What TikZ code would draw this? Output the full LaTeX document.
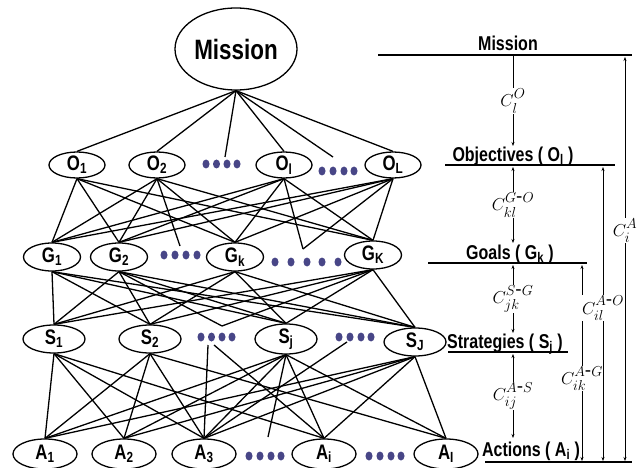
\documentclass[tikz,border=0pt]{standalone}
\usepackage{fontspec}
\setmainfont{Liberation Sans}
\newfontfamily\cond[FakeStretch=0.8]{Liberation Sans}
\usetikzlibrary{arrows.meta,shapes.geometric}
\definecolor{dotc}{RGB}{72,70,135}
\newcommand\Clab[2]{$C^{\raisebox{2pt}{$\scriptstyle #1$}}_{\raisebox{-2pt}{$\scriptstyle #2$}}$}
\begin{document}
\begin{tikzpicture}[x=1pt,y=-1pt,
  nd/.style={draw,ellipse,line width=1.3pt,inner sep=0pt,font=\cond\bfseries\fontsize{21}{21}\selectfont},
  rowO/.style={nd,minimum width=56pt,minimum height=26pt},
  rowG/.style={nd,minimum width=57pt,minimum height=28pt},
  rowS/.style={nd,minimum width=62pt,minimum height=28pt},
  rowA/.style={nd,minimum width=64pt,minimum height=30pt},
  ed/.style={line width=1.3pt},
  lvl/.style={line width=2pt},
  lvltxt/.style={font=\cond\bfseries\fontsize{20}{20}\selectfont, inner sep=0pt, anchor=base},
  arr/.style={line width=0.7pt,{Stealth[length=4pt,width=3pt]}-{Stealth[length=4pt,width=3pt]}},
  arrd/.style={line width=0.7pt,-{Stealth[length=4pt,width=3pt]}},
  clab/.style={fill=white, inner sep=0.5pt, font=\fontsize{19}{19}\selectfont}
]
\useasboundingbox (0,0) rectangle (640,468);
\fill[white] (0,0) rectangle (640,468);

% ---- left tree nodes
\node[nd,minimum width=122pt,minimum height=82pt,font=\cond\bfseries\fontsize{28}{28}\selectfont] (mis) at (236,49) {Mission};

\node[rowO] (o1) at (77,165) {O\textsubscript{1}};
\node[rowO] (o2) at (157,165) {O\textsubscript{2}};
\node[rowO] (ol) at (284,165) {O\textsubscript{l}};
\node[rowO] (oL) at (393,165) {O\textsubscript{L}};

\node[rowG] (g1) at (52,257) {G\textsubscript{1}};
\node[rowG] (g2) at (119,257) {G\textsubscript{2}};
\node[rowG] (gk) at (235,257) {G\textsubscript{k}};
\node[rowG] (gK) at (373,255) {G\textsubscript{K}};

\node[rowS] (s1) at (54,339) {S\textsubscript{1}};
\node[rowS] (s2) at (150,339) {S\textsubscript{2}};
\node[rowS] (sj) at (286,339) {S\textsubscript{j}};
\node[rowS] (sJ) at (415,342) {S\textsubscript{J}};

\node[rowA] (a1) at (45,454) {A\textsubscript{1}};
\node[rowA] (a2) at (124,454) {A\textsubscript{2}};
\node[rowA] (a3) at (204,454) {A\textsubscript{3}};
\node[rowA] (ai) at (324,454) {A\textsubscript{i}};
\node[rowA] (aI) at (446,454) {A\textsubscript{I}};

% ---- dot groups
\foreach \x in {206,216.5,227,237} \fill[dotc] (\x,164) ellipse (3.5pt and 4.5pt);
\foreach \x in {322,333,344,354} \fill[dotc] (\x,171) ellipse (3.5pt and 4.5pt);
\foreach \x in {164,175,186,197} \fill[dotc] (\x,255) ellipse (3.5pt and 4.5pt);
\foreach \x in {275,291,307,322,338} \fill[dotc] (\x,262) ellipse (3.5pt and 4.5pt);
\foreach \x in {201,211.5,222,232} \fill[dotc] (\x,337) ellipse (3.5pt and 4.5pt);
\foreach \x in {339,350,361,371} \fill[dotc] (\x,337) ellipse (3.5pt and 4.5pt);
\foreach \x in {249,260,271,281} \fill[dotc] (\x,456) ellipse (3.5pt and 4.5pt);
\foreach \x in {369,380,391,401} \fill[dotc] (\x,456) ellipse (3.5pt and 4.5pt);

% ---- dangling edge ends
\coordinate (md1) at (225,157);
\coordinate (md2) at (333,157);
\coordinate (gd1) at (180,246);
\coordinate (gd2) at (303,249);
\coordinate (sd1) at (222,326);
\coordinate (sd1a) at (208,345);
\coordinate (sd1b) at (214,345);
\coordinate (sd2) at (347,342);
\coordinate (ad1) at (268,437);

% ---- edges
\foreach \b in {o1,o2,ol,oL} \draw[ed] (mis.south) -- (\b.north);
\draw[ed] (mis.south) -- (md1);
\draw[ed] (mis.south) -- (md2);

\foreach \a/\b in {o1/g1,o1/g2,o1/gk,o1/gK,o2/g1,o2/g2,o2/gk,o2/gK,ol/g1,ol/g2,ol/gk,ol/gK,oL/g1,oL/g2,oL/gk,oL/gK}
  \draw[ed] (\a.south) -- (\b.north);
\draw[ed] (o2.south) -- (gd1);
\draw[ed] (ol.south) -- (gd2);
\draw[ed] (oL.south) -- (gd2);

\foreach \a/\b in {g1/s1,g1/s2,g1/sj,g1/sJ,g2/s1,g2/s2,g2/sj,g2/sJ,gk/s1,gk/s2,gk/sj,gk/sJ,gK/s1,gK/s2,gK/sj,gK/sJ}
  \draw[ed] (\a.south) -- (\b.north);
\draw[ed] (g2.south) -- (sd1);
\draw[ed] (gK.south) -- (sd1);

\foreach \a/\b in {s1/a1,s1/a2,s1/a3,s1/ai,s2/a1,s2/a2,s2/a3,s2/aI,sj/a1,sj/a2,sj/a3,sj/ai,sj/aI,sJ/a1,sJ/a2,sJ/a3,sJ/ai,sJ/aI}
  \draw[ed] (\a.south) -- (\b.north);
\draw[ed] (sj.south) -- (ad1);
\draw[ed] (sd1a) -- (a3.north);
\draw[ed] (sd1b) -- (ai.north);
\draw[ed] (sd2) -- (a3.north);

% ---- right side: level lines
\coordinate (mL) at (378,55);  \coordinate (mR) at (632,55);
\coordinate (oLl) at (445,165); \coordinate (oRr) at (615,165);
\coordinate (gL) at (428,263); \coordinate (gR) at (587,263);
\coordinate (sL) at (448,352); \coordinate (sR) at (568,352);
\coordinate (aL) at (485,462); \coordinate (aR) at (632,462);
\draw[lvl] (mL) -- (mR);
\draw[lvl] (oLl) -- (oRr);
\draw[lvl] (gL) -- (gR);
\draw[lvl] (sL) -- (sR);
\draw[lvl] (aL) -- (aR);

\node[lvltxt] (tm) at (508,51) {Mission};
\node[lvltxt] (to) at (513,161) {Objectives ( O\textsubscript{l} )};
\node[lvltxt] (tg) at (510,259) {Goals ( G\textsubscript{k} )};
\node[lvltxt] (ts) at (505,348) {Strategies ( S\textsubscript{j} )};
\node[lvltxt] (ta) at (531,456) {Actions ( A\textsubscript{i} )};

% ---- central arrows
\coordinate (c1t) at (513,56);  \coordinate (c1b) at (513,146);
\coordinate (c2t) at (513,167); \coordinate (c2b) at (513,243);
\coordinate (c3t) at (513,265); \coordinate (c3b) at (513,333);
\coordinate (c4t) at (513,354); \coordinate (c4b) at (513,438);
\draw[arrd] (c1t) -- node[clab] {\Clab{O}{l}} (c1b);
\draw[arr] (c2t) -- node[clab] {\Clab{G\textrm{-}O}{kl}} (c2b);
\draw[arr] (c3t) -- node[clab] {\Clab{S\textrm{-}G}{jk}} (c3b);
\draw[arr] (c4t) -- node[clab] {\Clab{A\textrm{-}S}{ij}} (c4b);

% ---- right long arrows
\coordinate (r1t) at (582,265); \coordinate (r1b) at (582,461);
\coordinate (r2t) at (603,167); \coordinate (r2b) at (603,461);
\coordinate (r3t) at (625,57);  \coordinate (r3b) at (625,461);
\draw[arr] (r1t) -- node[clab,pos=0.58] {\Clab{A\textrm{-}G}{ik}} (r1b);
\draw[arr] (r2t) -- node[clab,pos=0.48] {\Clab{A\textrm{-}O}{il}} (r2b);
\draw[arr] (r3t) -- node[clab,pos=0.43] {\Clab{A}{i}} (r3b);
\end{tikzpicture}
\end{document}
